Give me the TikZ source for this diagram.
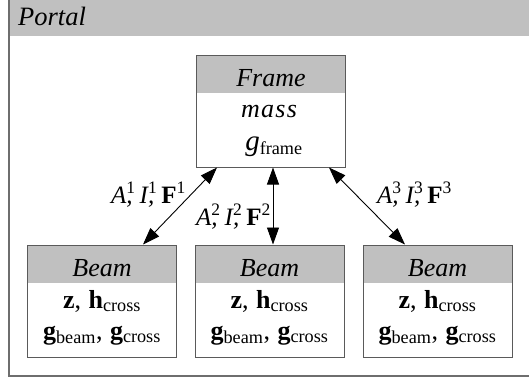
\documentclass[tikz,border=0pt]{standalone}
\usepackage{fontspec}
\setmainfont{Liberation Serif}
\usetikzlibrary{arrows.meta}
\definecolor{hdrgray}{RGB}{192,192,192}
\definecolor{boxgray}{RGB}{90,90,90}
\definecolor{outgray}{RGB}{110,110,110}
\tikzset{
  box/.style={draw=boxgray, line width=1pt, fill=white, minimum width=149pt, minimum height=112pt, inner sep=0pt,
    path picture={\fill[hdrgray] (path picture bounding box.north west) rectangle ([yshift=-38pt]path picture bounding box.north east);}},
  txt/.style={inner sep=0pt, font=\fontsize{26}{28}\selectfont, anchor=base},
  lbl/.style={inner sep=0pt, font=\fontsize{25}{28}\selectfont},
  link/.style={line width=0.9pt, {Triangle[length=17pt,width=12pt]}-{Triangle[length=17pt,width=12pt]}}
}
\newcommand{\supc}[1]{\rlap{\textsuperscript{\upshape #1}},\hspace{7pt}}
\begin{document}
\begin{tikzpicture}[x=1pt,y=-1pt]
\useasboundingbox (0,0) rectangle (529,380);
\clip (0,0) rectangle (529,380);
% outer portal frame
\fill[hdrgray] (9,-10) rectangle (540,36);
\draw[outgray, line width=1.5pt] (9,-10) rectangle (540,376);
\node[inner sep=0pt, anchor=base west, font=\fontsize{26.5}{30}\selectfont\itshape] (portal) at (18,25) {Portal};
% frame box
\node[box] (frame) at (270.5,111) {};
\node[txt] (frameT) at (271,86) {\itshape Frame};
\node[txt] (mass) at (269,117) {\addfontfeature{LetterSpace=5}\itshape mass};
\node[txt] (gframe) at (274,150) {\fontsize{29}{30}\selectfont\itshape g\textup{\fontsize{26}{28}\selectfont\textsubscript{frame}}};
% beam boxes
\foreach \n/\x in {1/102,2/269.5,3/437.5}{
  \node[box] (beam\n) at (\x,301) {};
  \node[txt] (beamT\n) at (\x,276) {\itshape Beam};
  \node[txt] (beamA\n) at (\x,308) {\textbf{z},\hspace{1pt} \textbf{h}\textsubscript{cross}};
  \node[txt] (beamB\n) at (\x,339) {\textbf{g}\textsubscript{beam},\hspace{1pt} \textbf{g}\textsubscript{cross}};
}
% connectors
\draw[link] ([xshift=-53.5pt]frame.south) -- ([xshift=41pt]beam1.north);
\draw[link] ([xshift=2.5pt]frame.south) -- ([xshift=3.5pt]beam2.north);
\draw[link] ([xshift=58.5pt]frame.south) -- ([xshift=-32.5pt]beam3.north);
% labels
\node[lbl, anchor=base east] (l1) at (186,203) {\itshape A\supc{1}I\supc{1}\upshape\textbf{F}\textsuperscript{1}};
\node[lbl, anchor=base east] (l2) at (271,225) {\itshape A\supc{2}I\supc{2}\upshape\textbf{F}\textsuperscript{2}};
\node[lbl, anchor=base west] (l3) at (377,203) {\itshape A\supc{3}I\supc{3}\upshape\textbf{F}\textsuperscript{3}};
\end{tikzpicture}
\end{document}
